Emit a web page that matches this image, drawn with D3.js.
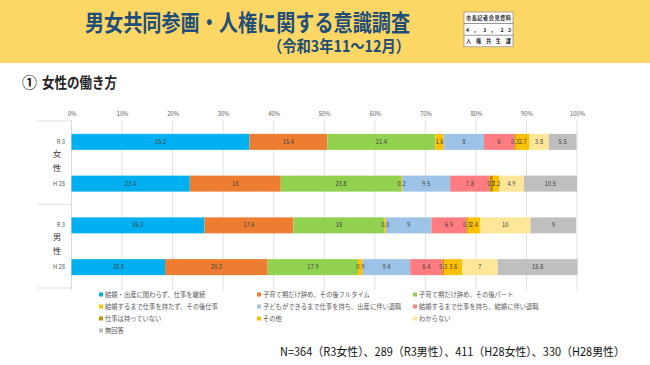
<!DOCTYPE html>
<html><head><meta charset="utf-8">
<script src="https://cdn.jsdelivr.net/npm/d3@7"></script>
<style>
html,body{margin:0;padding:0;background:#fff;}
svg{display:block;font-family:"Noto Sans CJK JP","Noto Sans",sans-serif;}
</style></head><body>
<svg id="c" width="650" height="365"></svg>
<script>
// ---- data ----
const rowIds = ["R3女性", "H28女性", "R3男性", "H28男性"];
const rowLabels = ["R 3", "H 28", "R 3", "H 28"];
const groups = ["女性", "男性"];
const seriesNames = [
  "結婚・出産に関わらず、仕事を継続",
  "子育て期だけ辞め、その後フルタイム",
  "子育て期だけ辞め、その後パート",
  "結婚するまで仕事を持たず、その後仕事",
  "子どもができるまで仕事を持ち、出産に伴い退職",
  "結婚するまで仕事を持ち、結婚に伴い退職",
  "仕事は持っていない",
  "その他",
  "わからない",
  "無回答"
];
const seriesColors = ["#00b0f0", "#ed7d31", "#92d050", "#ffc000", "#9dc3e6", "#ff7c80", "#bf9000", "#ffc000", "#ffe699", "#bfbfbf"];
const valuesR3F  = [35.2, 15.4, 21.4, 1.6, 8,   6,   0.3, 2.7, 3.8, 5.5];
const valuesH28F = [23.4, 18,   23.8, 0.2, 9.5, 7.8, 0.7, 1.2, 4.9, 10.5];
const valuesR3M  = [26.3, 17.6, 18,   0.3, 9,   6.9, 0.3, 2.4, 10,  9];
const valuesH28M = [18.5, 20.3, 17.9, 0.9, 9.4, 6.4, 0.3, 3.6, 7,   15.8];
const tickValues = [0, 10, 20, 30, 40, 50, 60, 70, 80, 90, 100];
const title = "男女共同参画・人権に関する意識調査";
const subtitle = "（令和3年11～12月）";
const headingNum = "①";
const headingText = "女性の働き方";
const stampLines = ["市長記者会見資料", "4 ， 3 ， 2 3", "人 権 共 生 課"];
const footnote = "N=364（R3女性）、289（R3男性）、411（H28女性）、330（H28男性）";

const allValues = [valuesR3F, valuesH28F, valuesR3M, valuesH28M];

const svg = d3.select("#c");

// header band
svg.append("rect").attr("x",0).attr("y",0).attr("width",650).attr("height",63).attr("fill","#fdd766");
svg.append("text").attr("x",85).attr("y",30.5)
  .attr("font-size",23).attr("font-weight","bold").attr("fill","#1f4e79")
  .attr("textLength",325).attr("lengthAdjust","spacingAndGlyphs").text(title);
svg.append("text").attr("x",268).attr("y",52)
  .attr("font-size",16).attr("font-weight","bold").attr("fill","#1f4e79")
  .attr("textLength",142).attr("lengthAdjust","spacingAndGlyphs").text(subtitle);

// stamp box
const sx = 464, sy = 12, sw = 49, sh = 11.6;
stampLines.forEach((t,i)=>{
  svg.append("rect").attr("x",sx).attr("y",sy+i*sh).attr("width",sw).attr("height",sh)
    .attr("fill","#fff").attr("stroke","#777").attr("stroke-width",0.6);
  svg.append("text").attr("x",sx+2).attr("y",sy+i*sh+7.9)
    .attr("font-size",5.2).attr("font-weight","bold").attr("fill","#222")
    .attr("textLength",sw-4).attr("lengthAdjust","spacing").text(t);
});

// heading
svg.append("text").attr("x",22).attr("y",88).attr("font-size",15).attr("font-weight","bold")
  .attr("fill","#222").text(headingNum);
svg.append("text").attr("x",42).attr("y",88).attr("font-size",14.5).attr("font-weight","bold")
  .attr("fill","#222").attr("textLength",75).attr("lengthAdjust","spacingAndGlyphs").text(headingText);

// scales
const x = d3.scaleLinear().domain([0,100]).range([71.5,577]);
const y = d3.scaleBand().domain(rowIds).range([121,288]).paddingInner(0.617).paddingOuter(0.3085);

// gridlines
svg.append("g").selectAll("line").data(tickValues).join("line")
  .attr("x1",d=>x(d)).attr("x2",d=>x(d)).attr("y1",120).attr("y2",290)
  .attr("stroke","#d9d9d9").attr("stroke-width",0.8);

// top axis labels
const xAxis = d3.axisTop(x).tickValues(tickValues).tickFormat(d=>d+"%").tickSize(0).tickPadding(0);
const gx = svg.append("g").attr("transform","translate(0,116)").call(xAxis);
gx.select(".domain").remove();
gx.selectAll("text").attr("font-size",5.8).attr("fill","#595959").attr("font-family","'Noto Sans CJK JP',sans-serif");

// left category axis lines
const lg = svg.append("g").attr("stroke","#d9d9d9").attr("stroke-width",0.8);
lg.append("line").attr("x1",x(0)).attr("x2",x(0)).attr("y1",121).attr("y2",290);
[121, 204.5, 288].forEach(v=>{
  lg.append("line").attr("x1",37).attr("x2",x(0)).attr("y1",v).attr("y2",v);
});

// row labels
svg.append("g").selectAll("text").data(rowIds).join("text")
  .attr("x",65).attr("y",d=>y(d)+y.bandwidth()/2+2)
  .attr("text-anchor","end").attr("font-size",5.8).attr("fill","#595959")
  .text((d,i)=>rowLabels[i]);

// group labels (vertical)
groups.forEach((g,gi)=>{
  const cy = (y(rowIds[gi*2]) + y(rowIds[gi*2+1]) + y.bandwidth())/2;
  Array.from(g).forEach((ch,ci)=>{
    svg.append("text").attr("x",57).attr("y",cy - 9 + ci*14 + 3)
      .attr("text-anchor","middle").attr("font-size",8.5).attr("fill","#404040").text(ch);
  });
});

// stacked bars
const segs = [];
rowIds.forEach((id,ri)=>{
  let acc = 0;
  allValues[ri].forEach((v,si)=>{
    segs.push({id, si, x0:acc, x1:acc+v, v});
    acc += v;
  });
});
svg.append("g").selectAll("rect").data(segs).join("rect")
  .attr("x",d=>x(d.x0)).attr("width",d=>x(d.x1)-x(d.x0))
  .attr("y",d=>y(d.id)).attr("height",y.bandwidth())
  .attr("fill",d=>seriesColors[d.si]);

svg.append("g").selectAll("text").data(segs).join("text")
  .attr("x",d=>(x(d.x0)+x(d.x1))/2).attr("y",d=>y(d.id)+y.bandwidth()/2+2)
  .attr("text-anchor","middle").attr("font-size",5.8).attr("fill","#404040")
  .text(d=>d.v);

// legend
const colX = [99, 257, 413];
const rowY = [294.5, 306.5, 318.5, 330.5];
const leg = svg.append("g");
seriesNames.forEach((n,i)=>{
  const cx = colX[i%3], cy = rowY[Math.floor(i/3)];
  leg.append("rect").attr("x",cx).attr("y",cy-2).attr("width",4).attr("height",4).attr("fill",seriesColors[i]);
  leg.append("text").attr("x",cx+6).attr("y",cy+2.2).attr("font-size",6.3).attr("fill","#595959").text(n);
});

// footnote
svg.append("text").attr("x",280).attr("y",355.5)
  .attr("font-size",11.5).attr("fill","#111")
  .attr("textLength",345).attr("lengthAdjust","spacingAndGlyphs").text(footnote);
</script>
</body></html>
